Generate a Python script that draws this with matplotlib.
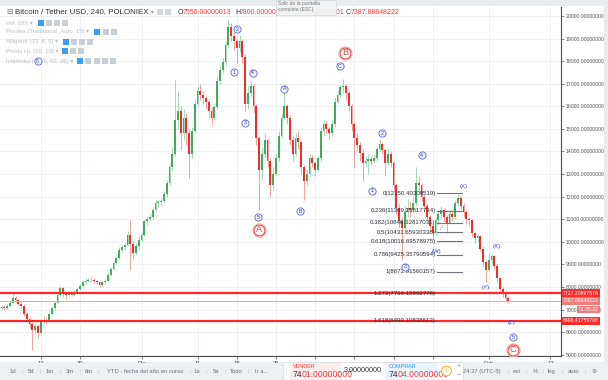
import matplotlib
matplotlib.use('Agg')
import matplotlib.pyplot as plt
from matplotlib.patches import Rectangle

plt.rcParams['font.family'] = ['Liberation Sans', 'DejaVu Sans']

# 12h candles from 6 Nov 2017 to 5 Feb 2018 (USDT_BTC, Poloniex)
first_open = 7050
closes = [7100, 7050, 7150, 7300, 7500, 7420, 7250, 7150, 6800, 6600,
          6350, 6100, 6250, 5950, 6450, 6550, 6500, 6800, 7050, 7300,
          7650, 7950, 7700, 7650, 7700, 7650, 7750, 7900, 8050, 8200,
          8250, 8300, 8320, 8280, 8200, 8100, 8200, 8280, 8550, 8800,
          9050, 9300, 9650, 9750, 9850, 10300, 9900, 9500, 9800, 10100,
          10300, 10900, 11000, 11100, 11400, 11700, 11750, 11800, 12100, 12600,
          13300, 13900, 15400, 15800, 14800, 15500, 14800, 13900, 14900, 16100,
          16700, 16500, 16350, 16200, 15800, 15500, 15950, 17100, 17600, 17950,
          18700, 19500, 19100, 18900, 18600, 18900, 18200, 16100, 16600, 16900,
          16000, 14600, 13200, 13900, 14500, 13600, 12500, 13000, 13700, 14700,
          15500, 16000, 15500, 14500, 13900, 14600, 14400, 13300, 12700, 13000,
          13700, 13500, 13200, 13700, 14900, 15200, 15000, 14800, 15200, 16200,
          16500, 16850, 16900, 16600, 16000, 15200, 14600, 14300, 13950, 13500,
          13600, 13650, 13600, 13700, 14100, 14350, 14050, 13500, 13900, 13500,
          12500, 11500, 10900, 10600, 11300, 11500, 11400, 11700, 12600, 12500,
          12000, 11600, 11100, 10700, 10400, 10950, 11250, 11400, 11100, 10850,
          11250, 11100, 11700, 11950, 11600, 11300, 11000, 10950, 10400, 10150,
          10250, 9700, 9100, 8750, 9200, 9350, 8950, 8400, 7900, 7700,
          7500, 7388]
highs = [7200, 7180, 7250, 7400, 7750, 7600, 7480, 7320, 7200, 6900,
         6680, 6450, 6400, 6350, 6600, 6700, 6650, 6900, 7150, 7400,
         7750, 8050, 8000, 7800, 7800, 7780, 7850, 7980, 8120, 8300,
         8380, 8400, 8450, 8380, 8330, 8250, 8280, 8350, 8620, 8900,
         9150, 9400, 9750, 9850, 9950, 10500, 10970, 10050, 9950, 10250,
         10450, 11000, 11150, 11250, 11550, 11850, 11900, 11950, 12250, 12750,
         13450, 14200, 17170, 16700, 16000, 15900, 15700, 15000, 15100, 16300,
         16900, 17000, 16700, 16500, 16300, 15950, 16100, 17300, 17800, 18200,
         18900, 19850, 19700, 19300, 19000, 19150, 19000, 18300, 16900, 17100,
         17000, 16100, 14700, 14200, 14800, 14600, 13700, 13300, 13900, 14900,
         15700, 16600, 16100, 15600, 14700, 14800, 14900, 14500, 13400, 13200,
         13900, 13850, 13600, 13800, 15100, 15400, 15350, 15100, 15400, 16400,
         16700, 17000, 17200, 17000, 16700, 16100, 15300, 14800, 14400, 14100,
         13800, 13900, 13800, 13900, 14250, 14500, 14400, 14100, 14100, 14000,
         13600, 12600, 11700, 11100, 11600, 11900, 11800, 12000, 13300, 12900,
         12600, 12100, 11700, 11200, 10800, 11100, 11400, 11600, 11500, 11200,
         11400, 11350, 11850, 12100, 12000, 11700, 11400, 11100, 11000, 10500,
         10400, 10300, 9800, 9200, 9500, 9450, 9400, 9000, 8450, 8000,
         7800, 7550]
lows = [6980, 6990, 7020, 7120, 7280, 7350, 7180, 7050, 6700, 6450,
        6200, 5200, 5900, 5750, 5900, 6350, 6400, 6450, 6750, 7000,
        7250, 7600, 7550, 7450, 7600, 7580, 7620, 7700, 7850, 8000,
        8150, 8200, 8220, 8180, 8120, 8020, 8050, 8150, 8250, 8500,
        8750, 9000, 9250, 9550, 9650, 9800, 8750, 9250, 9400, 9700,
        10000, 10250, 10750, 10900, 11000, 11350, 11550, 11600, 11700, 12000,
        12500, 13200, 13800, 15000, 14070, 14500, 14300, 12820, 13700, 14800,
        16000, 16300, 16100, 15900, 15500, 15170, 15400, 15900, 17000, 17500,
        17800, 18600, 18900, 18500, 17900, 18400, 17900, 15800, 15900, 16400,
        15700, 14300, 11400, 12800, 13700, 13300, 12000, 12300, 12900, 13600,
        14600, 15400, 15200, 14300, 13600, 13800, 14100, 13000, 11850, 12500,
        12900, 13300, 12900, 13100, 13600, 14700, 14800, 14500, 14700, 15100,
        16100, 16400, 16600, 16300, 15800, 14900, 13300, 14000, 13600, 12700,
        13300, 13000, 13400, 13500, 13600, 14000, 13900, 12900, 13400, 13300,
        12300, 11200, 10600, 9200, 10400, 11100, 11100, 11300, 11600, 12200,
        11800, 11300, 10900, 10500, 10100, 10300, 10800, 11100, 10900, 10400,
        10800, 10900, 11000, 11600, 11450, 11100, 10800, 10700, 10200, 9950,
        10000, 9600, 8900, 8200, 8700, 9000, 8800, 8200, 7800, 7550,
        7350, 7351]
opens = [first_open] + closes[:-1]

# x ticks (candle index) and labels; January labels sit under the order panel
tick_pos = [14, 28, 50, 70, 84, 98, 112, 126, 140, 154, 174, 196]
tick_txt = ['13', '20', 'Dic', '11', '18', '25', '', '', '', '', 'Feb', '12']
price_ticks = list(range(5000, 20001, 1000))

# Fibonacci extension
fib_txt = ['0(12150.40300519)', '0.236(11369.23817734)', '0.382(10846.32817031)',
           '0.5(10431.65930338)', '0.618(10016.69578975)', '0.786(9425.35790594)',
           '1(8672.91560157)', '1.272(7716.15902776)', '1.618(6499.10838613)']
fib_price = [12150.4, 11369.2, 10846.3, 10431.7, 10016.7, 9425.4, 8672.9, 7716.2, 6499.1]
fib_start, fib_end = 155.5, 164.3

# horizontal levels
resist = 7727.20897576
last_px = 7387.88648222
support = 6496.41759708

# Elliott wave labels: (candle index, price, text)
waves_blue = [(12.9, 18000, '5'), (84.0, 19420, '2'), (82.9, 17520, '1'), (89.7, 17490, '4'),
              (86.9, 15275, '3'), (91.7, 11085, '5'), (101.0, 16785, 'A'), (106.7, 11350, 'B'),
              (120.9, 17785, 'C'), (135.8, 14805, '2'), (132.2, 12263, '1'), (150.1, 13844, '4'),
              (144.1, 8897, '3'), (182.7, 5762, '5')]
waves_red = [(91.9, 10536, 'A'), (122.8, 18375, 'B'), (182.7, 5208, 'C')]
waves_plain = [(155.2, 9562, '(W)'), (164.9, 12440, '(X)'), (176.9, 9783, '(X)'),
               (172.9, 7985, '(Y)'), (182.3, 6404, '(Z)')]

W, H = 608, 380
fig = plt.figure(figsize=(6.08, 3.8), dpi=100)
fig.patch.set_facecolor('#e9ecef')


def fx(x):
    return x / W


def fy(y):
    return 1 - y / H


# white chart panel
fig.patches.append(Rectangle((0, fy(362)), fx(604), fy(6) - fy(362), transform=fig.transFigure,
                             fc='white', ec='none', zorder=-5))

ax = fig.add_axes([0, fy(356), fx(561), fy(7) - fy(356)])
ax.set_facecolor('white')
ax.set_xlim(-0.54, 199.8)
ax.set_ylim(4942, 20399)

green, red = '#3fae5c', '#f0302b'
for i in range(len(closes)):
    o, c = opens[i], closes[i]
    col = green if c >= o else red
    ax.vlines(i, lows[i], highs[i], color=col, lw=0.7, alpha=0.45, zorder=2)
    ax.bar(i, max(abs(c - o), 25), bottom=min(o, c), width=0.62, color=col, lw=0, zorder=3)

for p in price_ticks:
    ax.axhline(p, color='#edf1f5', lw=0.7, zorder=0)
for t in tick_pos:
    ax.axvline(t, color='#edf1f5', lw=0.7, zorder=0)

# horizontal levels
ax.axhline(resist, color='#ff2626', lw=1.6, zorder=4)
ax.axhline(last_px, color='#f7a6a6', lw=0.8, zorder=4)
ax.axhline(support, color='#ff2626', lw=1.6, zorder=4)

# fib extension lines and labels
for t, p in zip(fib_txt, fib_price):
    ax.plot([fib_start, fib_end], [p, p], color='#6f7380', lw=0.8, zorder=5)
    ax.text(fib_start - 0.4, p, t, fontsize=4.4, color='#2a2e39', ha='right', va='center', zorder=6)
ax.plot([156.6, 164.4], [10523, 12073], color='#8a8d96', lw=0.7, ls=(0, (1, 1.5)), zorder=5)

for u, p, t in waves_blue:
    ax.plot(u, p, 'o', ms=5.2, mfc='#f0f1fc', mec='#5a67d8', mew=0.6, zorder=7)
    ax.text(u, p, t, fontsize=3.8, color='#3a46c4', ha='center', va='center', zorder=8)
for u, p, t in waves_red:
    ax.plot(u, p, 'o', ms=9.5, mfc='white', mec='#f7a3a3', mew=0.7, zorder=7)
    ax.plot(u, p, 'o', ms=7.8, mfc='white', mec='#e53935', mew=0.7, zorder=7)
    ax.text(u, p, t, fontsize=6.5, color='#e53935', ha='center', va='center', zorder=8)
for u, p, t in waves_plain:
    ax.text(u, p, t, fontsize=4.3, color='#3a46c4', ha='center', va='center', zorder=8)

# axes styling
for s in ['left', 'top']:
    ax.spines[s].set_visible(False)
ax.spines['right'].set_color('#4d4d4d')
ax.spines['bottom'].set_color('#4d4d4d')
ax.spines['right'].set_linewidth(0.8)
ax.spines['bottom'].set_linewidth(0.8)
ax.yaxis.tick_right()
ax.set_yticks(price_ticks)
ax.set_yticklabels(['%d.00000000' % p for p in price_ticks])
ax.set_xticks(tick_pos)
ax.set_xticklabels(tick_txt)
ax.tick_params(axis='y', labelsize=3.7, colors='#555555', length=2, width=0.5, pad=1.5)
ax.tick_params(axis='x', labelsize=4.2, colors='#555555', length=2, width=0.5, pad=1.5)

# price tags on the right scale
tags = [(resist, '7727.20897576', '#ff2a2a'), (last_px, '7387.88648222', '#f0797a'),
        (support, '6496.41759708', '#ff2a2a')]
for p, t, c in tags:
    ax.text(1.004, p, t, transform=ax.get_yaxis_transform(), fontsize=3.7, color='white',
            ha='left', va='center', zorder=9,
            bbox=dict(boxstyle='square,pad=0.25', fc=c, ec='none'))
ax.text(1.031, 7000, '01:35:32', transform=ax.get_yaxis_transform(), fontsize=3.7, color='white',
        ha='left', va='center', zorder=9, bbox=dict(boxstyle='square,pad=0.25', fc='#f0797a', ec='none'))

# header
hy = fy(12)
fig.text(fx(6), hy, '\u229f', fontsize=5.5, color='#777777', va='center')
fig.text(fx(15), hy, 'Bitcoin / Tether USD, 240, POLONIEX', fontsize=5.7, color='#333333', va='center')
fig.text(fx(151), hy, '\u25be', fontsize=4, color='#999999', va='center')
for xi in [160, 168]:
    fig.patches.append(Rectangle((fx(xi - 3), fy(15)), fx(6), fy(9) - fy(15), transform=fig.transFigure,
                                 fc='#d3d8de', ec='none', zorder=3))
ohlc = [(178, 'O', '7550.00000013'), (235, 'H', '7800.00000001'), (291, 'L', '7351.00000001'),
        (346, 'C', '7387.88648222')]
for x, k, v in ohlc:
    fig.text(fx(x), hy, k, fontsize=5.0, color='#333333', va='center', zorder=2)
    fig.text(fx(x + 4.5), hy, v, fontsize=5.0, color='#f23b3b', va='center', zorder=2)

# indicator legend
legend_rows = [(23, 'Vol. (20)', [41, 49, 57, 65]),
               (32, 'Pivotes (Traditional, Auto, 15)', [97, 106, 114]),
               (42, 'Alligator (13, 8, 5)', [66, 74, 82, 90]),
               (51, 'Pivots HL (10, 10)', [65, 73, 81]),
               (61, 'Ichimoku (9, 26, 52, 26)', [80, 88, 97, 105, 113])]
for y, t, icons in legend_rows:
    fig.text(fx(6), fy(y), t + ' \u25be', fontsize=4.3, color='#b9bec6', va='center')
    for k, xi in enumerate(icons):
        fig.patches.append(Rectangle((fx(xi - 3), fy(y + 3)), fx(6), fy(y - 3) - fy(y + 3),
                                     transform=fig.transFigure, fc='#3d9df0' if k == 0 else '#c9cfd6',
                                     ec='none', zorder=3))

# tooltip over the header
fig.patches.append(Rectangle((fx(276), fy(14.5)), fx(60), fy(0) - fy(14.5), transform=fig.transFigure,
                             fc='#f2f3f5', ec='#d0d4d9', lw=0.5, alpha=0.93, zorder=4))
fig.text(fx(278), fy(3.5), 'Salir de la pantalla', fontsize=3.6, color='#777777', va='center', zorder=5)
fig.text(fx(278), fy(9), 'completa (ESC)', fontsize=3.6, color='#777777', va='center', zorder=5)

# bottom toolbar
fig.patches.append(Rectangle((0, 0), 1, fy(363), transform=fig.transFigure, fc='#eef1f4', ec='none', zorder=1))
tools = [(13, '1d'), (31, '5d'), (50, '1m'), (70, '3m'), (89, '6m'), (145, 'YTD - fecha del año en curso'),
         (197, '1a'), (216, '5a'), (236, 'Todo'), (262, 'Ir a...'),
         (482, '24:37 (UTC-5)'), (517, 'ext'), (535, '%'), (552, 'log'), (573, 'auto'), (594, '\u2699')]
for x, t in tools:
    fig.text(fx(x), fy(371.5), t, fontsize=4.2, color='#6b7079', ha='center', va='center', zorder=6)
for x in [22, 40, 60, 80, 98, 190, 206, 225, 248, 508, 526, 543, 562, 585]:
    fig.text(fx(x), fy(371.5), '|', fontsize=4.2, color='#c3c8ce', ha='center', va='center', zorder=6)

# order panel
fig.patches.append(Rectangle((fx(283), 0), fx(180), fy(362), transform=fig.transFigure,
                             fc='white', ec='#d5dae0', lw=0.5, zorder=4))
fig.patches.append(Rectangle((fx(290), 0), fx(51), fy(362.5), transform=fig.transFigure,
                             fc='#fdeeee', ec='none', zorder=5))
fig.patches.append(Rectangle((fx(385), 0), fx(53), fy(362.5), transform=fig.transFigure,
                             fc='#eaf5fd', ec='none', zorder=5))
fig.text(fx(286), fy(371), '\u22ee', fontsize=5, color='#b0b5bb', ha='center', va='center', zorder=6)
fig.text(fx(293), fy(366.5), 'VENDER', fontsize=3.9, color='#f23b3b', va='center', zorder=6)
fig.text(fx(293), fy(374.5), '74', fontsize=6.2, color='#333333', va='center', zorder=6)
fig.text(fx(302), fy(374.5), '01.00000000', fontsize=6.2, color='#f23b3b', va='center', zorder=6)
fig.text(fx(363), fy(371), '3.00000000', fontsize=5.2, color='#333333', ha='center', va='center', zorder=6)
fig.text(fx(389), fy(366.5), 'COMPRAR', fontsize=3.9, color='#2196f3', va='center', zorder=6)
fig.text(fx(389), fy(374.5), '74', fontsize=6.2, color='#333333', va='center', zorder=6)
fig.text(fx(398), fy(374.5), '04.00000000', fontsize=6.2, color='#f23b3b', va='center', zorder=6)
fig.text(fx(446.5), fy(371), 'i', fontsize=5, color='#f5a623', ha='center', va='center', zorder=6,
         bbox=dict(boxstyle='circle,pad=0.2', fc='white', ec='#f5a623', lw=0.7))
fig.text(fx(459), fy(366.5), '+', fontsize=5, color='#8a8f96', ha='center', va='center', zorder=6)
fig.text(fx(459), fy(375.5), '\u2212', fontsize=5, color='#8a8f96', ha='center', va='center', zorder=6)

plt.savefig('out.png', dpi=100, facecolor=fig.get_facecolor())
